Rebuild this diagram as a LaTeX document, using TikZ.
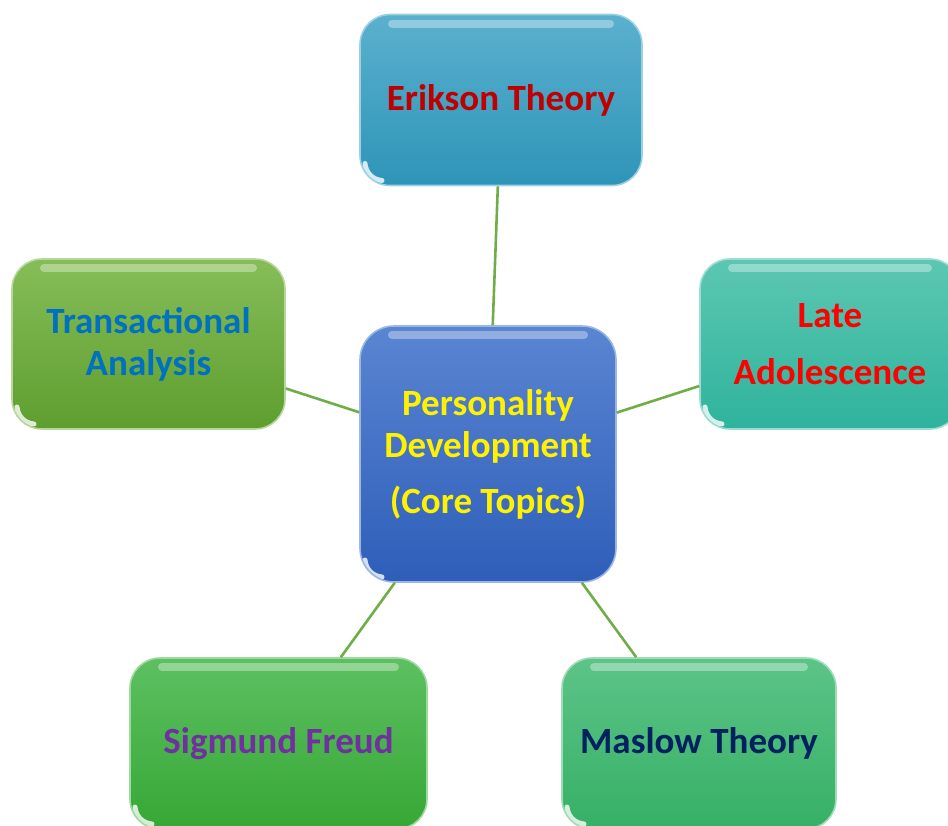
\documentclass[tikz,border=0pt]{standalone}
\usepackage{fontspec}
\setmainfont{Carlito}
\definecolor{erikTop}{HTML}{5BB0CE}
\definecolor{erikBot}{HTML}{2E95B8}
\definecolor{coreTop}{HTML}{5A85D2}
\definecolor{coreBot}{HTML}{2E5EB9}
\definecolor{lateTop}{HTML}{5CC7B2}
\definecolor{lateBot}{HTML}{2FB39C}
\definecolor{transTop}{HTML}{86BD58}
\definecolor{transBot}{HTML}{5E9E2F}
\definecolor{freudTop}{HTML}{5DC061}
\definecolor{freudBot}{HTML}{36A735}
\definecolor{maslowTop}{HTML}{5CC487}
\definecolor{maslowBot}{HTML}{36B066}
\definecolor{linkGreen}{HTML}{70AD47}
\definecolor{darkRed}{HTML}{C00000}
\definecolor{titleBlue}{HTML}{0070C0}
\definecolor{freudPurple}{HTML}{7030A0}
\definecolor{navy}{HTML}{002060}

\begin{document}
\begin{tikzpicture}[x=0.5pt, y=-0.5pt,
  topic/.style={rounded corners=15pt, inner sep=0pt, align=center,
    font=\fontsize{18.5}{21}\selectfont\bfseries, line width=0.8pt,
    path picture={
      \draw[white, opacity=0.35, line width=4pt, line cap=round]
        ([xshift=16pt,yshift=-4.5pt]path picture bounding box.north west) --
        ([xshift=-16pt,yshift=-4.5pt]path picture bounding box.north east);
      \draw[white, opacity=0.8, line width=2.5pt, line cap=round]
        ([xshift=2.5pt,yshift=11pt]path picture bounding box.south west) to[bend right=40]
        ([xshift=11pt,yshift=2.5pt]path picture bounding box.south west);
    }},
  link/.style={linkGreen, line width=1.3pt}]
\useasboundingbox (0,0) rectangle (948,825);

\node[topic, minimum width=128pt, minimum height=128pt, top color=coreTop, bottom color=coreBot,
  draw=coreTop!60!white, text=yellow, rounded corners=17pt] (core) at (488,454)
  {Personality\\Development\\[7pt](Core Topics)};
\node[topic, minimum width=141pt, minimum height=85.5pt, top color=erikTop, bottom color=erikBot,
  draw=erikTop!60!white, text=darkRed] (erik) at (501,100) {Erikson Theory};
\node[topic, minimum width=136.5pt, minimum height=85pt, top color=transTop, bottom color=transBot,
  draw=transTop!60!white, text=titleBlue] (trans) at (148.5,344) {Transactional\\Analysis};
\node[topic, minimum width=130pt, minimum height=85pt, top color=lateTop, bottom color=lateBot,
  draw=lateTop!60!white, text=red] (late) at (830,344) {Late\\[7.5pt]Adolescence};
\node[topic, minimum width=148.5pt, minimum height=85.5pt, top color=freudTop, bottom color=freudBot,
  draw=freudTop!60!white, text=freudPurple] (freud) at (278.5,743.5) {Sigmund Freud};
\node[topic, minimum width=137pt, minimum height=85.5pt, top color=maslowTop, bottom color=maslowBot,
  draw=maslowTop!60!white, text=navy] (maslow) at (699,743.5) {Maslow Theory};

\foreach \t in {erik, trans, late, freud, maslow}
  \draw[link] (core) -- (\t);
\end{tikzpicture}
\end{document}
